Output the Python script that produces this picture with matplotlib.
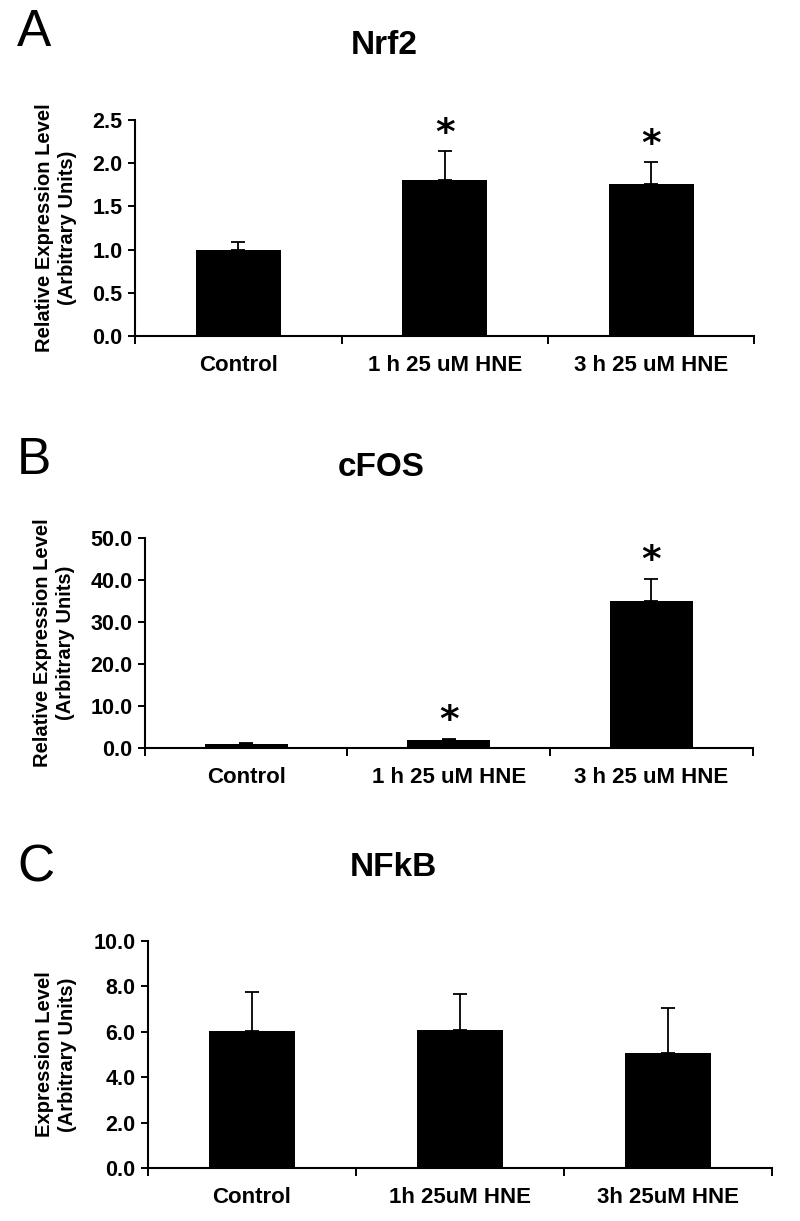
"""Three-panel bar figure: Nrf2 / cFOS / NFkB expression after HNE treatment."""

import matplotlib

matplotlib.use("Agg")
import matplotlib.pyplot as plt
import numpy as np

# panel A - Nrf2
nrf2_labels = ["Control", "1 h 25 uM HNE", "3 h 25 uM HNE"]
nrf2_mean = [1.00, 1.81, 1.76]
nrf2_err = [0.09, 0.33, 0.25]
nrf2_star = [False, True, True]

# panel B - cFOS
cfos_labels = ["Control", "1 h 25 uM HNE", "3 h 25 uM HNE"]
cfos_mean = [1.0, 1.8, 35.0]
cfos_err = [0.3, 0.4, 5.2]
cfos_star = [False, True, True]

# panel C - NFkB
nfkb_labels = ["Control", "1h 25uM HNE", "3h 25uM HNE"]
nfkb_mean = [6.02, 6.09, 5.07]
nfkb_err = [1.72, 1.57, 1.98]
nfkb_star = [False, False, False]

FONT = ["Liberation Sans", "DejaVu Sans"]


def draw(ax, labels, mean, err, stars, *, ymax, step, ylabel, star_pad, label_x):
    x = np.arange(len(mean))
    ax.bar(x, mean, width=0.41, color="black", zorder=2)
    ax.errorbar(x, mean, yerr=[np.zeros(len(err)), err], fmt="none",
                ecolor="black", elinewidth=1.3, capsize=5, capthick=1.3, zorder=3)
    for xi, m, e, s in zip(x, mean, err, stars):
        if s:
            ax.text(xi, m + e + star_pad, "*", ha="center", va="center",
                    fontsize=27, fontweight="bold", family="DejaVu Sans")
    ax.set_xlim(-0.5, len(mean) - 0.5)
    ax.set_ylim(0, ymax)
    ticks = np.arange(0, ymax + step / 2, step)
    ax.set_yticks(ticks)
    ax.set_yticklabels([f"{t:.1f}" for t in ticks], fontsize=15.5,
                       fontweight="bold", family=FONT)
    ax.set_xticks(np.arange(len(mean) + 1) - 0.5)
    ax.set_xticklabels([])
    ax.set_xticks(x, minor=True)
    ax.set_xticklabels(labels, minor=True, fontsize=16, fontweight="bold", family=FONT)
    ax.tick_params(axis="x", which="minor", length=0, pad=14)
    ax.tick_params(axis="x", which="major", length=6, width=1.4, direction="out")
    ax.tick_params(axis="y", length=5, width=1.4, direction="out", pad=4)
    for side in ("top", "right"):
        ax.spines[side].set_visible(False)
    for side in ("left", "bottom"):
        ax.spines[side].set_linewidth(1.5)
    ax.set_ylabel(ylabel, fontsize=14.5, fontweight="bold", family=FONT, linespacing=1.25)
    ax.yaxis.set_label_coords(label_x, 0.5)


fig = plt.figure(figsize=(8, 12.21), dpi=100)

axA = fig.add_axes([0.169, 0.7248, 0.774, 0.1769])
draw(axA, nrf2_labels, nrf2_mean, nrf2_err, nrf2_star, ymax=2.5, step=0.5,
     ylabel="Relative Expression Level\n(Arbitrary Units)", star_pad=0.2, label_x=-0.094)
axB = fig.add_axes([0.181, 0.3874, 0.76, 0.172])
draw(axB, cfos_labels, cfos_mean, cfos_err, cfos_star, ymax=50, step=10,
     ylabel="Relative Expression Level\n(Arbitrary Units)", star_pad=4.3, label_x=-0.115)
axC = fig.add_axes([0.185, 0.0434, 0.78, 0.1859])
draw(axC, nfkb_labels, nfkb_mean, nfkb_err, nfkb_star, ymax=10, step=2,
     ylabel="Expression Level\n(Arbitrary Units)", star_pad=0.5, label_x=-0.114)

H = 1221.0
for letter, ly, title, tx, ty in (("A", 33, "Nrf2", 384, 45), ("B", 461, "cFOS", 381, 467),
                                  ("C", 868, "NFkB", 393, 868)):
    fig.text(17 / 800, 1 - ly / H, letter, fontsize=37, family=FONT, va="center", ha="left")
    fig.text(tx / 800, 1 - ty / H, title, fontsize=24, fontweight="bold", family=FONT,
             va="center", ha="center")

fig.savefig("out.png", dpi=100)
